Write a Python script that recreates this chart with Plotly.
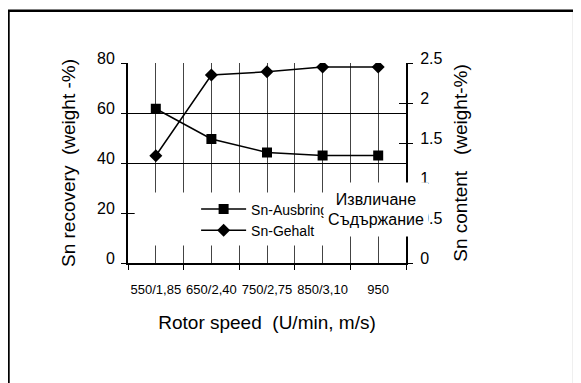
import plotly.graph_objects as go

categories = ["550/1,85", "650/2,40", "750/2,75", "850/3,10", "950"]
recovery = [61.7, 49.6, 44.2, 43.0, 43.0]      # Sn-Ausbringen, left axis
content = [1.34, 2.35, 2.39, 2.45, 2.45]      # Sn-Gehalt, right axis
left_ticks = [0, 20, 40, 60, 80]
right_ticks = [0, 0.5, 1, 1.5, 2, 2.5]

FONT = "Liberation Sans, Arial, sans-serif"
NARROW = "Liberation Sans Narrow, Arial Narrow, Liberation Sans, Arial, sans-serif"

xpos = list(range(len(categories)))
bounds = [i - 0.5 for i in range(len(categories) + 1)]

fig = go.Figure()
fig.add_trace(go.Scatter(
    x=xpos, y=recovery, name="Sn-Ausbringen", mode="lines+markers",
    line=dict(color="black", width=1.5),
    marker=dict(symbol="square", size=10, color="black"),
    yaxis="y"))
fig.add_trace(go.Scatter(
    x=xpos, y=content, name="Sn-Gehalt", mode="lines+markers",
    line=dict(color="black", width=1.5),
    marker=dict(symbol="diamond", size=10, color="black"),
    yaxis="y2"))

fig.update_layout(
    width=573, height=375,
    margin=dict(l=120.3, r=175.3, t=55.3, b=119.7, autoexpand=False),
    paper_bgcolor="white", plot_bgcolor="white",
    font=dict(family=FONT, color="black"),
    showlegend=True,
    legend=dict(
        x=0.245, y=0.215, xanchor="left", yanchor="middle",
        bgcolor="rgba(0,0,0,0)", borderwidth=0,
        font=dict(family=NARROW, size=14, color="black"),
        itemwidth=45, tracegroupgap=0,
    ),
    xaxis=dict(
        range=[-0.5, len(categories) - 0.5],
        tickvals=xpos, ticktext=categories,
        tickfont=dict(family=NARROW, size=13),
        ticks="", ticklabelstandoff=13,
        showgrid=True, gridcolor="#444", gridwidth=1,
        showline=True, linecolor="black", linewidth=2,
        zeroline=False,
        minor=dict(tickvals=bounds, ticks="outside", ticklen=5, tickcolor="black",
                   tickwidth=1, showgrid=True, gridcolor="#444", gridwidth=1),
        title=dict(text="Rotor speed  (U/min, m/s)", font=dict(size=19), standoff=20),
    ),
    yaxis=dict(
        range=[0, 80], tickvals=left_ticks,
        tickfont=dict(family=NARROW, size=16),
        ticks="outside", ticklen=5, tickcolor="black", tickwidth=1,
        ticklabelshift=-5, ticklabelstandoff=3,
        showgrid=True, gridcolor="black", gridwidth=1,
        showline=True, linecolor="black", linewidth=2, zeroline=False,
        title=dict(text="Sn recovery  (weight -%)", font=dict(size=19), standoff=16),
    ),
    yaxis2=dict(
        range=[0, 2.5], tickvals=right_ticks,
        overlaying="y", side="right", anchor="x",
        tickfont=dict(family=NARROW, size=16),
        ticks="outside", ticklen=5, tickcolor="black", tickwidth=1,
        ticklabelshift=-5, ticklabelstandoff=4,
        showgrid=False,
        showline=True, linecolor="black", linewidth=2, zeroline=False,
        title=dict(text="Sn content   (weight-%)", font=dict(size=19), standoff=12),
    ),
    yaxis3=dict(
        range=[0, 80], tickvals=left_ticks, overlaying="y", side="left", anchor="x",
        ticks="inside", ticklen=8, tickcolor="black", tickwidth=1,
        showticklabels=False, showgrid=False, showline=False, zeroline=False,
    ),
    yaxis4=dict(
        range=[0, 2.5], tickvals=right_ticks, overlaying="y", side="right", anchor="x",
        ticks="inside", ticklen=7, tickcolor="black", tickwidth=1,
        showticklabels=False, showgrid=False, showline=False, zeroline=False,
    ),
)

# invisible traces so that the crossing-tick axes are drawn
fig.add_trace(go.Scatter(x=[None], y=[None], yaxis="y3", showlegend=False, hoverinfo="skip"))
fig.add_trace(go.Scatter(x=[None], y=[None], yaxis="y4", showlegend=False, hoverinfo="skip"))

# white legend panel
fig.add_shape(type="rect", xref="paper", yref="paper",
              x0=0.024, x1=0.71, y0=0.087, y1=0.352,
              fillcolor="white", line=dict(width=0), layer="above")
# outer chart border
fig.add_shape(type="rect", xref="paper", yref="paper",
              x0=-0.430, x1=1.605, y0=-0.64, y1=1.2615,
              fillcolor="rgba(0,0,0,0)", line=dict(color="black", width=2.5), layer="above")

fig.add_annotation(
    text="Извличане<br>Съдържание", xref="paper", yref="paper",
    x=0.893, y=0.269, xanchor="center", yanchor="middle", showarrow=False,
    font=dict(family=FONT, size=16, color="black"),
    bgcolor="white", width=102, height=51, align="center")

fig.write_html("out.html")
